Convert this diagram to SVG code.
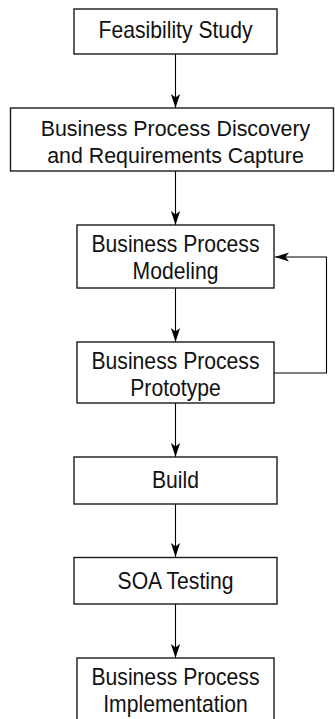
<svg xmlns="http://www.w3.org/2000/svg" width="335" height="719" viewBox="0 0 335 719">
<style>
.box{fill:#fff;stroke:#1a1a1a;stroke-width:1.4}
.lbl{font-family:"Liberation Sans",Arial,sans-serif;font-size:23px;fill:#111;text-anchor:middle}
.con{fill:none;stroke:#000;stroke-width:1.1}
</style>
<defs>
<marker id="ah" markerUnits="userSpaceOnUse" viewBox="-15 -5 16 10" refX="0" refY="0" markerWidth="16" markerHeight="10" orient="auto">
<path d="M0,0 L-14,-4.6 L-10.5,0 L-14,4.6 Z" fill="#000"/>
</marker>
</defs>
<rect width="335" height="719" fill="#fff"/>
<g id="connectors">
<line class="con" x1="175.5" y1="54" x2="175.5" y2="108" marker-end="url(#ah)"/>
<line class="con" x1="175.5" y1="171" x2="175.5" y2="225" marker-end="url(#ah)"/>
<line class="con" x1="175.5" y1="288" x2="175.5" y2="342" marker-end="url(#ah)"/>
<line class="con" x1="175.5" y1="403" x2="175.5" y2="457" marker-end="url(#ah)"/>
<line class="con" x1="175.5" y1="504" x2="175.5" y2="557" marker-end="url(#ah)"/>
<line class="con" x1="175.5" y1="604" x2="175.5" y2="658" marker-end="url(#ah)"/>
<polyline class="con" points="274,373 326.5,373 326.5,257 275,257" marker-end="url(#ah)"/>
</g>
<g id="feasibility">
<rect class="box" x="74" y="9" width="203" height="45"/>
<text class="lbl" transform="translate(175.5 0) scale(0.92 1)" x="0" y="38.5">Feasibility Study</text>
</g>
<g id="discovery">
<rect class="box" x="10.5" y="108" width="323" height="63"/>
<text class="lbl" transform="translate(175.5 0) scale(0.93 1)" x="0" y="136">Business Process Discovery</text>
<text class="lbl" transform="translate(175.5 0) scale(0.93 1)" x="0" y="163">and Requirements Capture</text>
</g>
<g id="modeling">
<rect class="box" x="77" y="225" width="197" height="63"/>
<text class="lbl" transform="translate(175.5 0) scale(0.92 1)" x="0" y="252.5">Business Process</text>
<text class="lbl" transform="translate(175.5 0) scale(0.92 1)" x="0" y="279.5">Modeling</text>
</g>
<g id="prototype">
<rect class="box" x="77" y="342" width="197" height="61"/>
<text class="lbl" transform="translate(175.5 0) scale(0.92 1)" x="0" y="369">Business Process</text>
<text class="lbl" transform="translate(175.5 0) scale(0.92 1)" x="0" y="396">Prototype</text>
</g>
<g id="build">
<rect class="box" x="74" y="457" width="203" height="47"/>
<text class="lbl" transform="translate(175.5 0) scale(0.92 1)" x="0" y="488.5">Build</text>
</g>
<g id="soa-testing">
<rect class="box" x="74" y="557.5" width="203" height="46.5"/>
<text class="lbl" transform="translate(175.5 0) scale(0.92 1)" x="0" y="589">SOA Testing</text>
</g>
<g id="implementation">
<rect class="box" x="77" y="658" width="197" height="70"/>
<text class="lbl" transform="translate(175.5 0) scale(0.92 1)" x="0" y="685.5">Business Process</text>
<text class="lbl" transform="translate(175.5 0) scale(0.92 1)" x="0" y="712">Implementation</text>
</g>
</svg>
